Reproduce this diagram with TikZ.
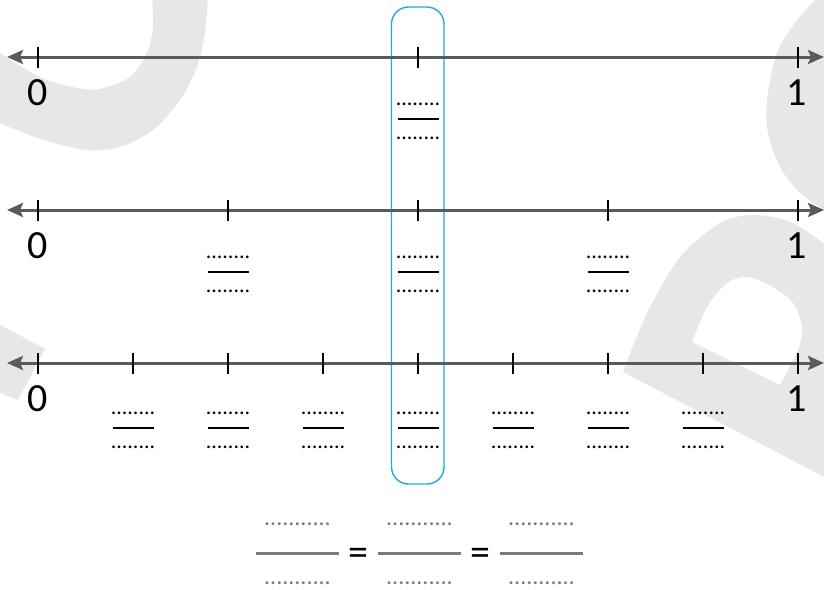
\documentclass[tikz,border=0pt]{standalone}
\usepackage{fontspec}
\setmainfont{Carlito}
\usetikzlibrary{arrows.meta}
\definecolor{axisgray}{HTML}{5A5A5A}
\definecolor{wmgray}{HTML}{E6E7E8}
\definecolor{frameblue}{HTML}{1FA9E1}
\definecolor{blankgray}{HTML}{7A7A7A}
\begin{document}
\begin{tikzpicture}[x=1pt,y=-1pt,
  watermark/.style={fill=wmgray, draw=none},
  numline/.style={draw=axisgray, line width=3pt,
    {Stealth[length=16pt,width=14pt,inset=3pt]}-{Stealth[length=16pt,width=14pt,inset=3pt]}},
  tickmark/.style={line width=2.6pt, black},
  endlabel/.style={font=\fontsize{40}{40}\selectfont, anchor=base, inner sep=0pt},
  blankdots/.style={font=\fontsize{22}{22}\selectfont, anchor=base, inner sep=0pt},
  fracbar/.style={line width=1.5pt, black},
  answerdots/.style={font=\fontsize{24}{24}\selectfont, text=blankgray, anchor=base, inner sep=0pt},
  answerbar/.style={line width=3pt, blankgray},
  eqsign/.style={font=\fontsize{40}{40}\selectfont, anchor=base, inner sep=0pt},
  focusframe/.style={draw=frameblue, line width=1.4pt, rounded corners=17pt, inner sep=0pt}
]
\useasboundingbox (0,0) rectangle (824,589);

% faint background lettering
\fill[watermark] (208,-5) -- plot[smooth] coordinates {(208,-5) (205,33) (197,67) (180,100) (153,130) (120,147) (87,150) (43,140) (-5,121)}
  -- (-5,50) -- plot[smooth] coordinates {(-5,50) (40,77) (77,88) (100,89) (130,77) (147,53) (153,27) (152,-5)} -- cycle;
\fill[watermark] (-5,322) -- (45,349) -- (18,400) -- (-5,391) -- cycle;
\fill[watermark] (830,-5) -- plot[smooth] coordinates {(820,-5) (797,20) (777,53) (767,100) (768,133) (780,167) (800,193) (824,210) (832,216)} -- cycle;
\fill[watermark, even odd rule]
  plot[smooth] coordinates {(623,372) (647,313) (680,257) (720,223) (753,215) (793,223) (832,250)}
  -- (832,481) -- cycle
  (692,342) -- plot[smooth] coordinates {(692,342) (707,307) (727,283) (747,277) (773,287) (793,303) (802,327) (798,350) (780,385)} -- cycle;

% highlighted column
\node[focusframe, minimum width=52.5pt, minimum height=477pt] (focus) at (417.75,245.5) {};

% three number lines from 0 to 1
\foreach \n/\y/\k/\f in {1/57/2/57, 2/210/4/210, 3/363/8/366} {
  \coordinate (w\n) at (7,\y);
  \coordinate (e\n) at (824,\y);
  \draw[numline] (w\n) -- (e\n);
  \foreach \i in {0,...,\k} {
    \coordinate (t\n-\i) at ({38+760*\i/\k},\y);
    \draw[tickmark] (t\n-\i) ++(0,-10.5) -- ++(0,21);
  }
  \node[endlabel] (zero\n) at (38,\y+48) {0};
  \node[endlabel] (one\n) at (797,\y+48) {1};
  \pgfmathtruncatemacro{\last}{\k-1}
  \foreach \i in {1,...,\last} {
    \pgfmathsetmacro{\xx}{38+760*\i/\k}
    \node[blankdots] (num\n-\i) at (\xx,\f+48.5) {........};
    \draw[fracbar] (\xx-20.5,\f+62) -- (\xx+20.5,\f+62);
    \node[blankdots] (den\n-\i) at (\xx,\f+82.5) {........};
  }
}

% equal fractions to fill in
\foreach \x/\n in {297.5/1, 419.5/2, 541.5/3} {
  \node[answerdots] (anum\n) at (\x,525) {...........};
  \draw[answerbar] (\x-41.5,553) -- (\x+41.5,553);
  \node[answerdots] (aden\n) at (\x,584) {...........};
}
\node[eqsign] (eq1) at (358,565) {=};
\node[eqsign] (eq2) at (480,565) {=};
\end{tikzpicture}
\end{document}
